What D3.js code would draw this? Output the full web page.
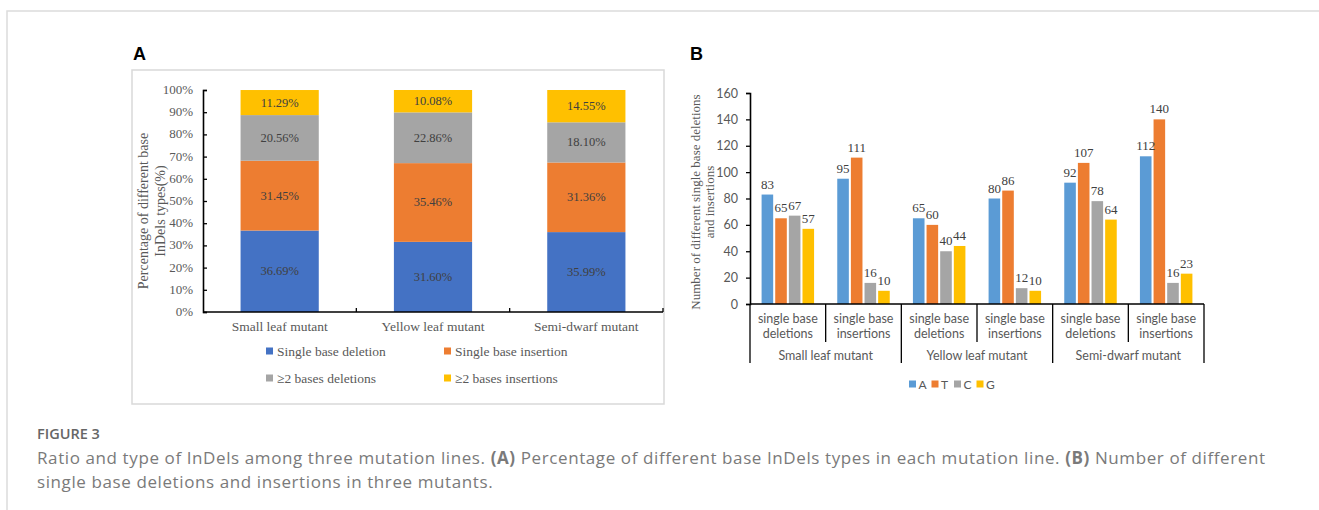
<!DOCTYPE html>
<html>
<head>
<meta charset="utf-8">
<script src="https://cdn.jsdelivr.net/npm/d3@7"></script>
<style>
  body { margin: 0; background: #fff; }
  svg { display: block; }
</style>
</head>
<body>
<div id="chart"></div>
<script>
//////// DATA ////////
var mutants = ["Small leaf mutant", "Yellow leaf mutant", "Semi-dwarf mutant"];

// panel A, percent per mutant
var typeNames = ["Single base deletion", "Single base insertion", "\u22652 bases deletions", "\u22652 bases insertions"];
var singleDel = [36.69, 31.60, 35.99];
var singleIns = [31.45, 35.46, 31.36];
var multiDel = [20.56, 22.86, 18.10];
var multiIns = [11.29, 10.08, 14.55];
var pctTicks = [0, 10, 20, 30, 40, 50, 60, 70, 80, 90, 100];

// panel B, counts per base, one entry per sub group
var subGroups = ["Small del", "Small ins", "Yellow del", "Yellow ins", "Semi del", "Semi ins"];
var subLabels = [["single base", "deletions"], ["single base", "insertions"]];
var bases = ["A", "T", "C", "G"];
var countA = [83, 95, 65, 80, 92, 112];
var countT = [65, 111, 60, 86, 107, 140];
var countC = [67, 16, 40, 12, 78, 16];
var countG = [57, 10, 44, 10, 64, 23];
var countTicks = [0, 20, 40, 60, 80, 100, 120, 140, 160];

var caption1 = [["Ratio and type of InDels among three mutation lines. ", false], ["(A)", true],
  [" Percentage of different base InDels types in each mutation line. ", false], ["(B)", true],
  [" Number of different", false]];
var caption2 = "single base deletions and insertions in three mutants.";

//////// CANVAS ////////
var W = 1319, H = 510;
var serif = "'Liberation Serif', 'Times New Roman', serif";
var sans = "Lato, 'Open Sans', sans-serif";
var svg = d3.select("#chart").append("svg").attr("width", W).attr("height", H);

// outer frame
svg.append("path").attr("d", "M7,510 V11 H1319")
  .attr("fill", "none").attr("stroke", "#dcdcdc").attr("stroke-width", 1.5);

// panel letters
svg.append("text").attr("x", 133).attr("y", 60).text("A")
  .style("font", "bold 18px 'Liberation Sans', Arial, sans-serif");
svg.append("text").attr("x", 690).attr("y", 60).text("B")
  .style("font", "bold 18px 'Liberation Sans', Arial, sans-serif");

//////// PANEL A ////////
var colorA = d3.scaleOrdinal().domain(typeNames).range(["#4472c4", "#ed7d31", "#a5a5a5", "#ffc000"]);

svg.append("rect").attr("x", 132).attr("y", 70).attr("width", 532).attr("height", 334)
  .attr("fill", "none").attr("stroke", "#d9d9d9").attr("stroke-width", 1.5);

var xA = d3.scaleBand().domain(mutants).range([203, 663]).paddingInner(0.49).paddingOuter(0.245);
var yA = d3.scaleLinear().domain([0, 100]).range([312, 90]);

var tableA = mutants.map(function(m, i) {
  return { mutant: m, s0: singleDel[i], s1: singleIns[i], s2: multiDel[i], s3: multiIns[i] };
});
var stackA = d3.stack().keys(["s0", "s1", "s2", "s3"])(tableA);

var gA = svg.append("g");
stackA.forEach(function(layer, li) {
  gA.selectAll(".segA" + li).data(layer).enter().append("rect")
    .attr("x", function(d) { return xA(d.data.mutant); })
    .attr("width", xA.bandwidth())
    .attr("y", function(d) { return yA(d[1]); })
    .attr("height", function(d) { return yA(d[0]) - yA(d[1]); })
    .attr("fill", colorA(typeNames[li]));
  gA.selectAll(".lblA" + li).data(layer).enter().append("text")
    .attr("x", function(d) { return xA(d.data.mutant) + xA.bandwidth() / 2; })
    .attr("y", function(d) { return (yA(d[0]) + yA(d[1])) / 2 + 4; })
    .attr("text-anchor", "middle")
    .style("font", "12.5px " + serif).style("fill", "#404040")
    .text(function(d) { return (d[1] - d[0]).toFixed(2) + "%"; });
});

// y axis A (ticks pointing inward)
var axA = svg.append("g").attr("transform", "translate(203,0)")
  .call(d3.axisRight(yA).tickValues(pctTicks).tickSize(4).tickFormat(""));
axA.select(".domain").attr("stroke", "#000").attr("stroke-width", 1.6);
axA.selectAll(".tick line").attr("stroke", "#000").attr("stroke-width", 1.3);
svg.append("g").selectAll("text").data(pctTicks).enter().append("text")
  .attr("x", 193).attr("y", function(d) { return yA(d) + 4; })
  .attr("text-anchor", "end")
  .style("font", "13px " + serif).style("fill", "#595959")
  .text(function(d) { return d + "%"; });

// x axis A
svg.append("line").attr("x1", 203).attr("x2", 663).attr("y1", yA(0)).attr("y2", yA(0))
  .attr("stroke", "#000").attr("stroke-width", 1.6);
svg.append("g").selectAll("line").data(mutants).enter().append("line")
  .attr("x1", function(d) { return xA(d) - xA.step() * xA.paddingOuter() + xA.step(); })
  .attr("x2", function(d) { return xA(d) - xA.step() * xA.paddingOuter() + xA.step(); })
  .attr("y1", yA(0)).attr("y2", yA(0) - 4)
  .attr("stroke", "#000").attr("stroke-width", 1.3);
svg.append("g").selectAll("text").data(mutants).enter().append("text")
  .attr("x", function(d) { return xA(d) + xA.bandwidth() / 2; })
  .attr("y", 331)
  .attr("text-anchor", "middle")
  .style("font", "13.5px " + serif).style("fill", "#595959")
  .text(function(d) { return d; });

// y title A
var tA = svg.append("text").attr("transform", "translate(148,211) rotate(-90)")
  .attr("text-anchor", "middle").style("font", "14px " + serif).style("fill", "#595959");
tA.append("tspan").attr("x", 0).attr("dy", 0).text("Percentage of different base");
tA.append("tspan").attr("x", 0).attr("dy", 17).text("InDels types(%)");

// legend A
var legA = svg.append("g").selectAll("g").data(typeNames).enter().append("g")
  .attr("transform", function(d, i) {
    return "translate(" + [266, 444][i % 2] + "," + [351, 378][Math.floor(i / 2)] + ")";
  });
legA.append("rect").attr("x", 0).attr("y", -3.5).attr("width", 7).attr("height", 7)
  .attr("fill", function(d) { return colorA(d); });
legA.append("text").attr("x", 11).attr("y", 4.5)
  .style("font", "13.5px " + serif).style("fill", "#595959")
  .text(function(d) { return d; });

//////// PANEL B ////////
var colorB = d3.scaleOrdinal().domain(bases).range(["#5b9bd5", "#ed7d31", "#a5a5a5", "#ffc000"]);
var countsB = { A: countA, T: countT, C: countC, G: countG };

var x0 = d3.scaleBand().domain(subGroups).range([750, 1204]);
var x1 = d3.scaleBand().domain(bases).range([0, x0.bandwidth()]).paddingInner(0.15).paddingOuter(0.85);
var yB = d3.scaleLinear().domain([0, 160]).range([304, 93]);

var cells = [];
subGroups.forEach(function(sg, i) {
  bases.forEach(function(b) { cells.push({ group: sg, base: b, value: countsB[b][i] }); });
});

var gB = svg.append("g");
gB.selectAll("rect").data(cells).enter().append("rect")
  .attr("x", function(d) { return x0(d.group) + x1(d.base); })
  .attr("width", x1.bandwidth())
  .attr("y", function(d) { return yB(d.value); })
  .attr("height", function(d) { return yB(0) - yB(d.value); })
  .attr("fill", function(d) { return colorB(d.base); });
gB.selectAll("text").data(cells).enter().append("text")
  .attr("x", function(d) { return x0(d.group) + x1(d.base) + x1.bandwidth() / 2; })
  .attr("y", function(d) { return yB(d.value) - 6; })
  .attr("text-anchor", "middle")
  .style("font", "13px " + serif).style("fill", "#404040")
  .text(function(d) { return d.value; });

// y axis B
var axB = svg.append("g").attr("transform", "translate(750,0)")
  .call(d3.axisLeft(yB).tickValues(countTicks).tickSize(4).tickPadding(8));
axB.select(".domain").attr("stroke", "#000").attr("stroke-width", 1.6);
axB.selectAll(".tick line").attr("stroke", "#000").attr("stroke-width", 1.3);
axB.selectAll(".tick text").style("font", "12.5px " + sans).style("fill", "#595959");

// x axis B with two-level category labels
svg.append("line").attr("x1", 750).attr("x2", 1204).attr("y1", yB(0)).attr("y2", yB(0))
  .attr("stroke", "#000").attr("stroke-width", 1.6);
svg.append("g").selectAll("line").data(subGroups).enter().append("line")
  .attr("x1", function(d, i) { return x0(d) + x0.bandwidth(); })
  .attr("x2", function(d, i) { return x0(d) + x0.bandwidth(); })
  .attr("y1", yB(0))
  .attr("y2", function(d, i) { return i % 2 === 0 ? 342 : 363; })
  .attr("stroke", "#000").attr("stroke-width", 1.3);
svg.append("line").attr("x1", 750).attr("x2", 750).attr("y1", yB(0)).attr("y2", 363)
  .attr("stroke", "#000").attr("stroke-width", 1.3);

var subT = svg.append("g").selectAll("text").data(subGroups).enter().append("text")
  .attr("text-anchor", "middle")
  .style("font", "12.5px " + sans).style("fill", "#595959");
subT.append("tspan")
  .attr("x", function(d) { return x0(d) + x0.bandwidth() / 2; }).attr("y", 323)
  .text(function(d, i) { return subLabels[i % 2][0]; });
subT.append("tspan")
  .attr("x", function(d) { return x0(d) + x0.bandwidth() / 2; }).attr("y", 338)
  .text(function(d, i) { return subLabels[i % 2][1]; });

svg.append("g").selectAll("text").data(mutants).enter().append("text")
  .attr("x", function(d, i) { return x0(subGroups[i * 2]) + x0.bandwidth(); })
  .attr("y", 360)
  .attr("text-anchor", "middle")
  .style("font", "12.5px " + sans).style("fill", "#595959")
  .text(function(d) { return d; });

// y title B
var tB = svg.append("text").attr("transform", "translate(700,202) rotate(-90)")
  .attr("text-anchor", "middle").style("font", "13px " + serif).style("fill", "#595959");
tB.append("tspan").attr("x", 0).attr("dy", 0).text("Number of different single base deletions");
tB.append("tspan").attr("x", 0).attr("dy", 13.5).text("and insertions");

// legend B
var legB = svg.append("g").selectAll("g").data(bases).enter().append("g")
  .attr("transform", function(d, i) { return "translate(" + (909 + i * 22.5) + ",384)"; });
legB.append("rect").attr("x", 0).attr("y", -3.5).attr("width", 7).attr("height", 7)
  .attr("fill", function(d) { return colorB(d); });
legB.append("text").attr("x", 9.5).attr("y", 4.5)
  .style("font", "12px " + sans).style("fill", "#595959")
  .text(function(d) { return d; });

//////// CAPTION ////////
var capFont = "'Open Sans', 'Noto Sans', sans-serif";
svg.append("text").attr("x", 37).attr("y", 439).text("FIGURE 3")
  .style("font", "600 14.5px " + capFont).style("fill", "#666");
var c1 = svg.append("text").attr("x", 37).attr("y", 464)
  .style("font", "17px " + capFont).style("letter-spacing", "0.6px").style("fill", "#7a7a7a");
caption1.forEach(function(p) {
  c1.append("tspan").style("font-weight", p[1] ? "700" : "400").text(p[0]);
});
svg.append("text").attr("x", 37).attr("y", 488).text(caption2)
  .style("font", "17px " + capFont).style("letter-spacing", "0.6px").style("fill", "#7a7a7a");
</script>
</body>
</html>
